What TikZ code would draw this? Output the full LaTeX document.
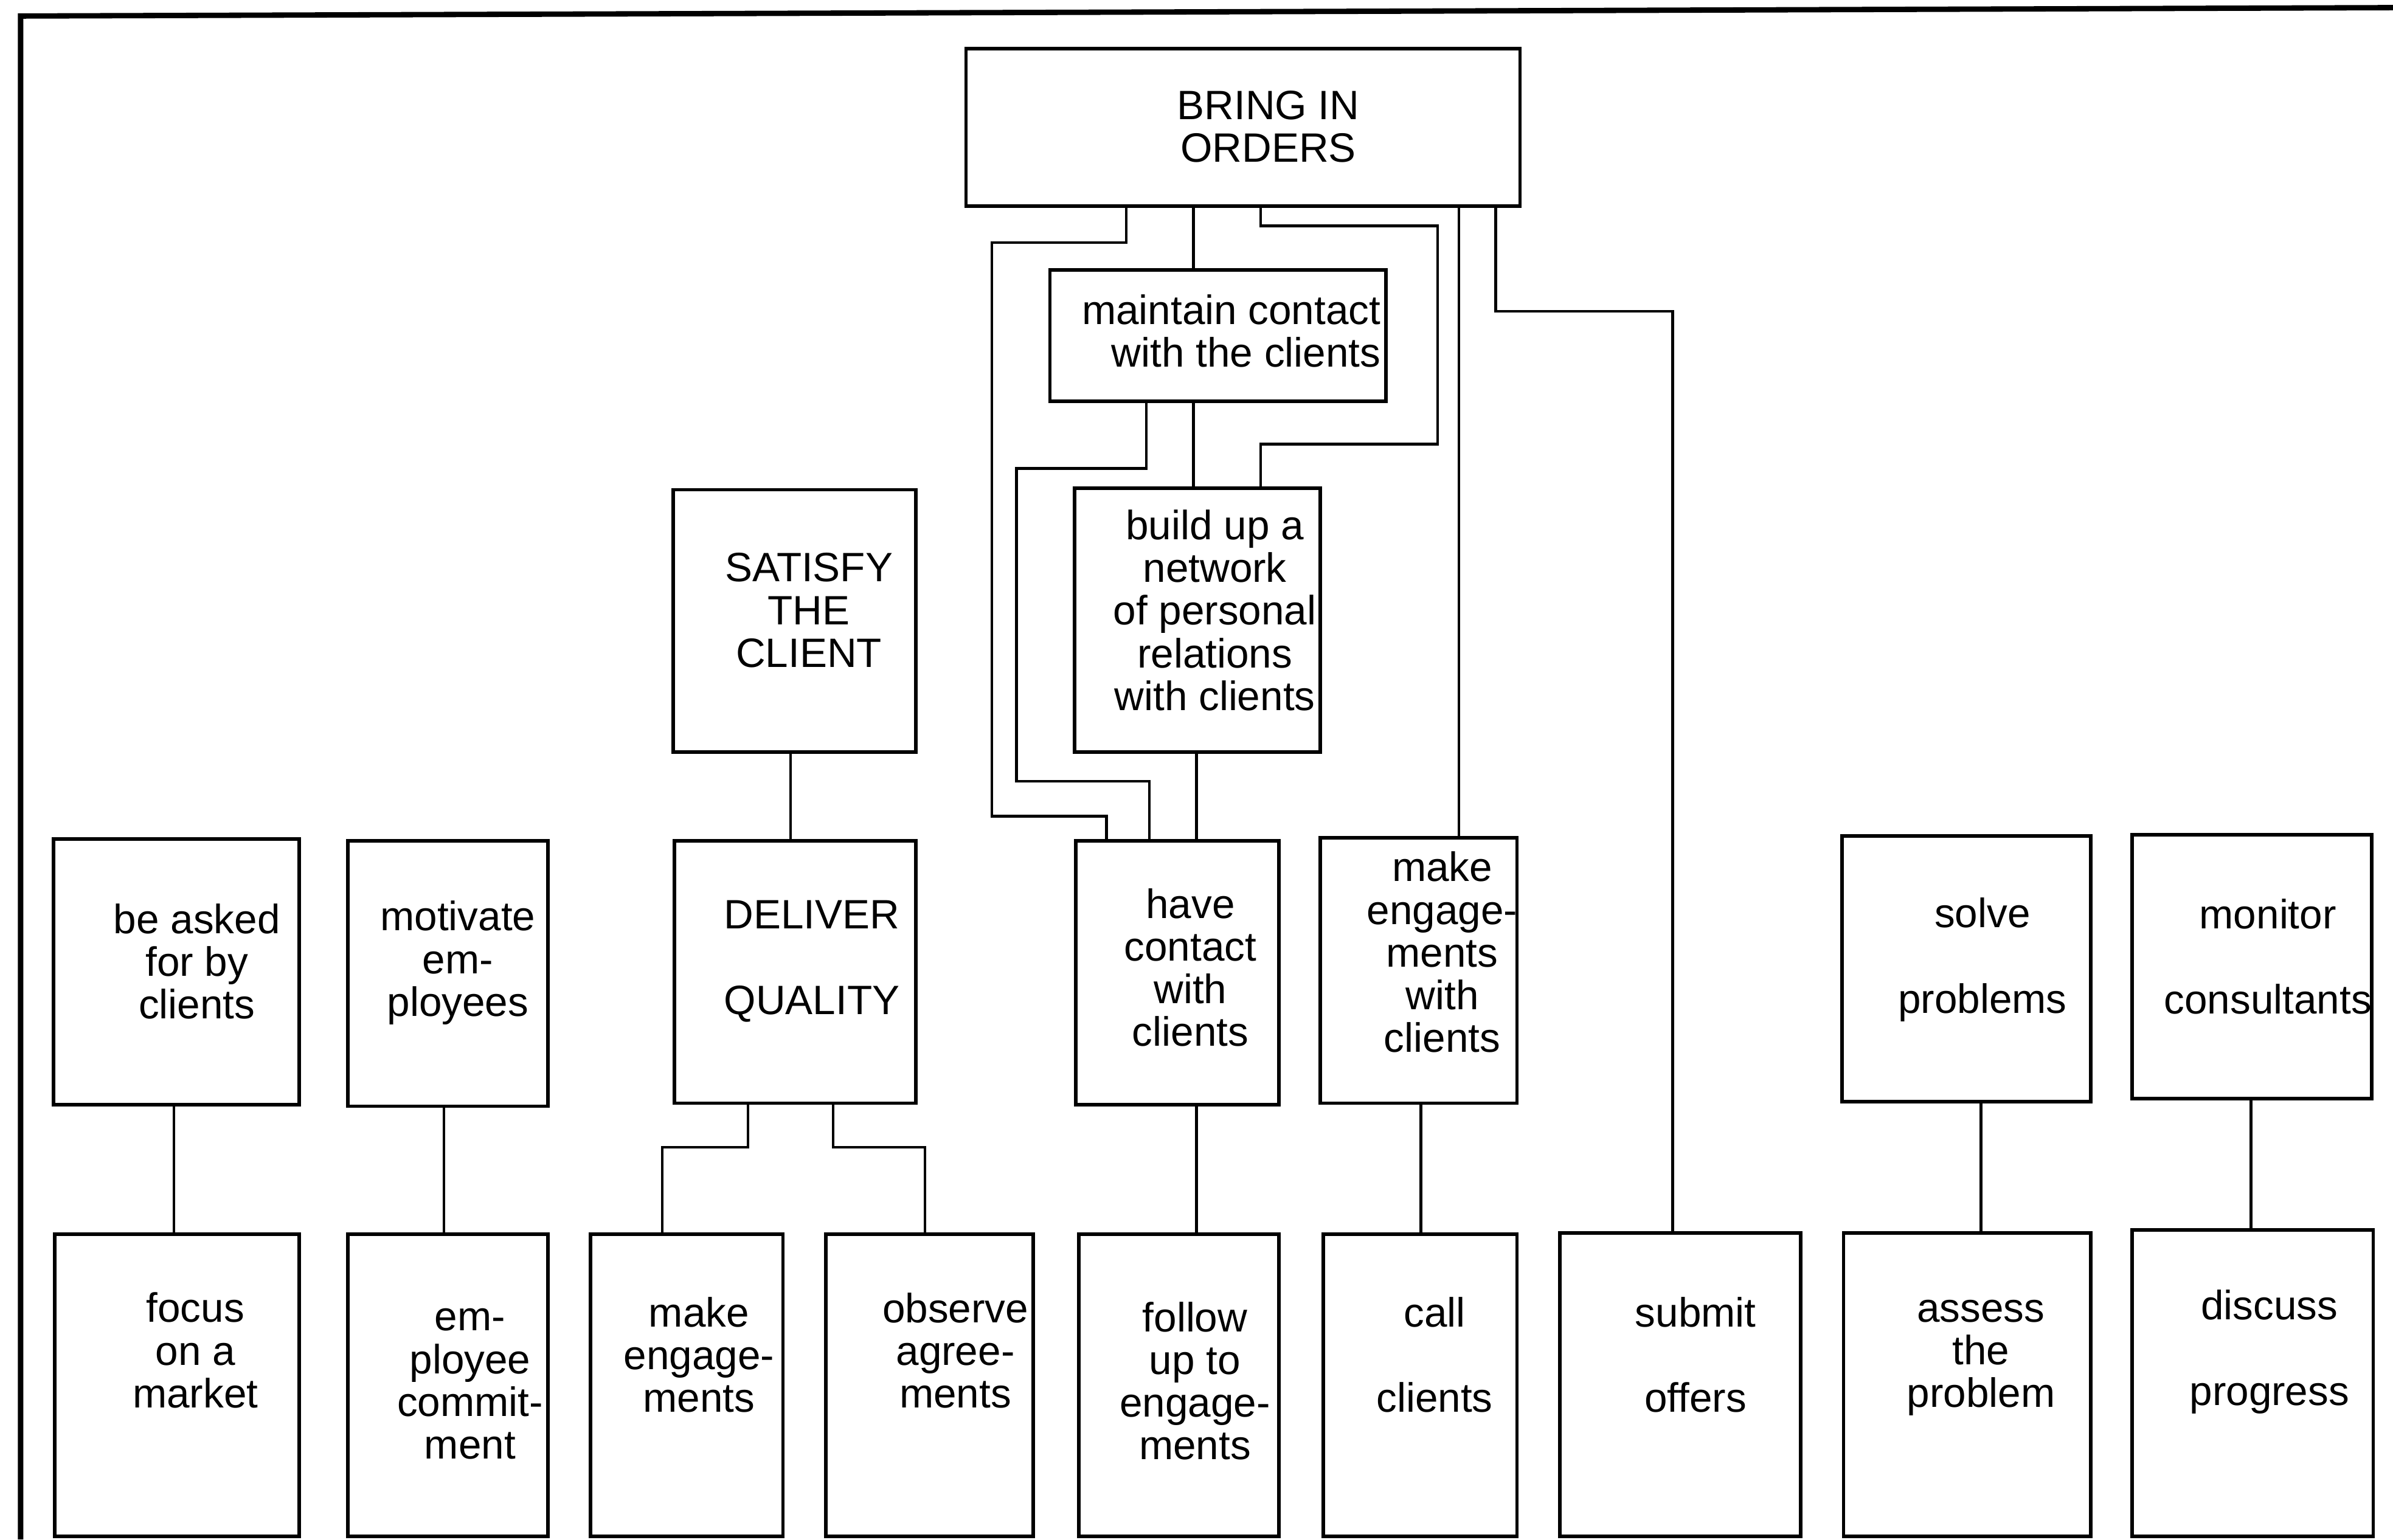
\documentclass[tikz,border=0pt]{standalone}
\usepackage{fontspec}
\setmainfont{Liberation Sans}
\usetikzlibrary{fit}
\begin{document}
\begin{tikzpicture}[x=0.02cm,y=-0.02cm,
  goal/.style={draw, line width=1.3pt, inner sep=0pt, fit={#1}},
  txt/.style={inner sep=0pt, align=center, font=\fontsize{15.3}{15.9}\selectfont},
  link/.style={line width=1pt},
  frame/.style={line width=2pt}]
\useasboundingbox (0,0) rectangle (1568,1009);

% page frame (left and top edges)
\draw[frame] (13.5,1009) -- (13.5,10.5) -- (1568,5);

% upper goals
\node[goal={(633,32) (996,135)}] (bio) {};
\node[txt] (bio-t) at (831,83) {BRING IN\\ORDERS};
\node[goal={(688,177) (908,263)}] (mcc) {};
\node[txt, align=right, anchor=east] (mcc-t) at (905,217) {maintain contact\\with the clients};
\node[goal={(704,320) (865,493)}] (bnet) {};
\node[txt] (bnet-t) at (796,400) {build up a\\network\\of personal\\relations\\with clients};
\node[goal={(441,321) (600,493)}] (sat) {};
\node[txt] (sat-t) at (530,400) {SATISFY\\THE\\CLIENT};

% middle row
\node[goal={(35,550) (196,724)}] (bab) {};
\node[txt] (bab-t) at (129,630) {be asked\\for by\\clients};
\node[goal={(228,551) (359,725)}] (mot) {};
\node[txt] (mot-t) at (300,631) {motivate\\em-\\ployees};
\node[goal={(442,551) (600,723)}] (dq) {};
\node[txt] (dq-t) at (532,630) {DELIVER\\[0.56cm]QUALITY};
\node[goal={(705,551) (838,724)}] (hcc) {};
\node[txt] (hcc-t) at (780,634) {have\\contact\\with\\clients};
\node[goal={(865,549) (994,723)}] (mec) {};
\node[txt] (mec-t) at (945,624) {make\\engage-\\ments\\with\\clients};
\node[goal={(1207,548) (1370,722)}] (sol) {};
\node[txt] (sol-t) at (1299,629) {solve\\[0.56cm]problems};
\node[goal={(1397,547) (1554,720)}] (mon) {};
\node[txt] (mon-t) at (1486,627) {monitor\\[0.56cm]consultants};

% bottom row
\node[goal={(36,809) (196,1007)}] (foc) {};
\node[txt] (foc-t) at (128,885) {focus\\on a\\market};
\node[goal={(228,809) (359,1007)}] (emc) {};
\node[txt] (emc-t) at (308,907) {em-\\ployee\\commit-\\ment};
\node[goal={(387,809) (513,1007)}] (meng) {};
\node[txt] (meng-t) at (458,888) {make\\engage-\\ments};
\node[goal={(541,809) (677,1007)}] (obs) {};
\node[txt] (obs-t) at (626,885) {observe\\agree-\\ments};
\node[goal={(707,809) (838,1007)}] (fup) {};
\node[txt] (fup-t) at (783,905) {follow\\up to\\engage-\\ments};
\node[goal={(867,809) (994,1007)}] (call) {};
\node[txt] (call-t) at (940,888) {call\\[0.56cm]clients};
\node[goal={(1022,808) (1180,1007)}] (sub) {};
\node[txt] (sub-t) at (1111,888) {submit\\[0.56cm]offers};
\node[goal={(1208,808) (1370,1007)}] (ass) {};
\node[txt] (ass-t) at (1298,890) {assess\\the\\problem};
\node[goal={(1397,806) (1555,1007)}] (dis) {};
\node[txt] (dis-t) at (1487,886) {discuss\\[0.56cm]progress};

% links from BRING IN ORDERS
\draw[link] (738,0 |- bio.south) |- (650,159) |- (725,535) -- (725,0 |- hcc.north);
\draw[link] (782,0 |- bio.south) -- (782,0 |- mcc.north);
\draw[link] (826,0 |- bio.south) |- (942,148) |- (826,291) -- (826,0 |- bnet.north);
\draw[link] (956,0 |- bio.south) -- (956,0 |- mec.north);
\draw[link] (980,0 |- bio.south) |- (1096,204) -- (1096,0 |- sub.north);

% links from maintain contact and the network
\draw[link] (751,0 |- mcc.south) |- (666,307) |- (753,512) -- (753,0 |- hcc.north);
\draw[link] (782,0 |- mcc.south) -- (782,0 |- bnet.north);
\draw[link] (784,0 |- bnet.south) -- (784,0 |- hcc.north);

% quality branch
\draw[link] (518,0 |- sat.south) -- (518,0 |- dq.north);
\draw[link] (490,0 |- dq.south) |- (434,752) -- (434,0 |- meng.north);
\draw[link] (546,0 |- dq.south) |- (606,752) -- (606,0 |- obs.north);

% single links to the bottom row
\draw[link] (114,0 |- bab.south) -- (114,0 |- foc.north);
\draw[link] (291,0 |- mot.south) -- (291,0 |- emc.north);
\draw[link] (784,0 |- hcc.south) -- (784,0 |- fup.north);
\draw[link] (931,0 |- mec.south) -- (931,0 |- call.north);
\draw[link] (1298,0 |- sol.south) -- (1298,0 |- ass.north);
\draw[link] (1475,0 |- mon.south) -- (1475,0 |- dis.north);
\end{tikzpicture}
\end{document}
